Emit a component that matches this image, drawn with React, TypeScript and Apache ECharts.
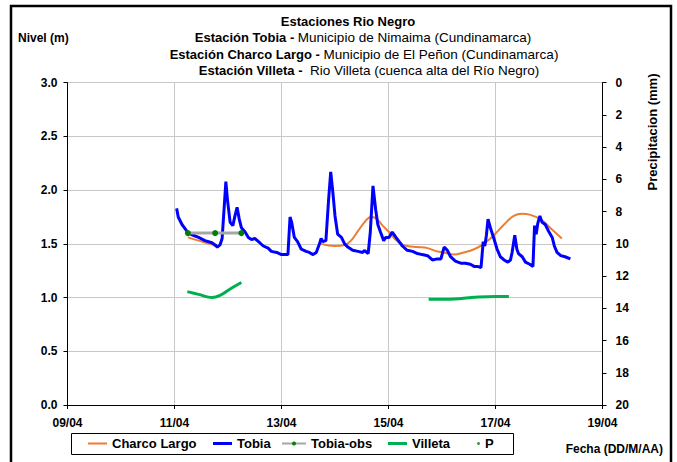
import React, { useEffect, useRef } from "react";
import * as echarts from "echarts";

// ---- data (x = day of April, y = level in m) ----
const tobiaDays = [
  11.04, 11.07, 11.14, 11.2, 11.26, 11.35, 11.45, 11.57, 11.7, 11.76, 11.8, 11.85, 11.89, 11.93, 11.96, 11.99,
  12.04, 12.09, 12.13, 12.17, 12.21, 12.25, 12.32, 12.38, 12.44, 12.5, 12.57, 12.66, 12.75, 12.81, 12.91, 13.0,
  13.12, 13.16, 13.19, 13.24, 13.3, 13.37, 13.46, 13.52, 13.59, 13.65, 13.71, 13.74, 13.77, 13.83, 13.88, 13.92,
  13.96, 14.0, 14.05, 14.12, 14.18, 14.24, 14.33, 14.43, 14.52, 14.55, 14.62, 14.66, 14.71, 14.76, 14.8, 14.85,
  14.91, 14.95, 15.01, 15.07, 15.14, 15.2, 15.26, 15.35, 15.45, 15.54, 15.63, 15.73, 15.82, 15.91, 15.98, 16.04,
  16.1, 16.16, 16.25, 16.35, 16.44, 16.53, 16.6, 16.66, 16.73, 16.77, 16.8, 16.83, 16.86, 16.91, 16.97, 17.03,
  17.09, 17.16, 17.23, 17.28, 17.31, 17.36, 17.4, 17.43, 17.5, 17.56, 17.64, 17.7, 17.73, 17.76, 17.79, 17.83,
  17.87, 17.93, 17.99, 18.06, 18.1, 18.15, 18.22, 18.3, 18.4,
];
const tobiaLevels = [
  1.83, 1.75, 1.68, 1.64, 1.6, 1.58, 1.56, 1.53, 1.51, 1.49, 1.47, 1.49, 1.55, 1.85, 2.08, 1.91,
  1.7, 1.67, 1.76, 1.84, 1.73, 1.65, 1.61, 1.56, 1.54, 1.55, 1.52, 1.48, 1.46, 1.43, 1.42, 1.4,
  1.4, 1.75, 1.7, 1.56, 1.52, 1.45, 1.43, 1.42, 1.4, 1.42, 1.5, 1.55, 1.52, 1.53, 1.91, 2.17,
  1.98, 1.76, 1.59, 1.56, 1.5, 1.47, 1.44, 1.43, 1.42, 1.44, 1.41, 1.61, 2.04, 1.82, 1.68, 1.61,
  1.53, 1.56, 1.56, 1.61, 1.56, 1.52, 1.48, 1.44, 1.43, 1.41, 1.4, 1.39, 1.35, 1.36, 1.36, 1.47,
  1.44, 1.38, 1.34, 1.32, 1.32, 1.31, 1.29, 1.29, 1.28, 1.52, 1.48, 1.58, 1.73, 1.64, 1.55, 1.45,
  1.38, 1.35, 1.33, 1.35, 1.42, 1.58, 1.45, 1.41, 1.38, 1.33, 1.31, 1.29, 1.67, 1.59, 1.69, 1.76,
  1.7, 1.68, 1.62, 1.56, 1.48, 1.42, 1.39, 1.38, 1.36,
];

const charcoDays = [
  11.25, 11.45, 11.66, 11.76, 12.8, 13.74, 13.99, 14.18, 14.3, 14.43, 14.55, 14.67, 14.76, 14.89, 15.01, 15.11,
  15.23, 15.35, 15.54, 15.73, 15.91, 16.04, 16.22, 16.41, 16.6, 16.78, 16.97, 17.16, 17.34, 17.5, 17.65, 17.84,
  18.02, 18.24,
];
const charcoLevels: (number | null)[] = [
  1.56, 1.53, 1.5, 1.48, null, 1.5, 1.48, 1.49, 1.53, 1.62, 1.7, 1.75, 1.74, 1.67, 1.61, 1.55,
  1.5, 1.48, 1.47, 1.46, 1.43, 1.42, 1.4, 1.42, 1.45, 1.5, 1.58, 1.68, 1.76, 1.78, 1.77, 1.73,
  1.65, 1.55,
];

const obsDays = [11.25, 11.76, 12.25];
const obsLevels = [1.6, 1.6, 1.6];

const villetaDays = [11.24, 11.45, 11.7, 11.85, 12.04, 12.25, 14.0, 15.75, 16.0, 16.32, 16.69, 17.0, 17.25];
const villetaLevels: (number | null)[] = [1.055, 1.03, 1.0, 1.02, 1.08, 1.14, null, 0.985, 0.985, 0.99, 1.005, 1.01, 1.01];

const precipDays: number[] = [];
const precipMm: number[] = [];

const xTicks = { min: 9, max: 19, interval: 2 };
const levelAxis = { min: 0, max: 3, interval: 0.5 };
const precipAxis = { min: 0, max: 20, interval: 2 };

const titleLines = [
  { bold: "Estaciones Rio Negro", normal: "" },
  { bold: "Estación Tobia - ", normal: "Municipio de Nimaima (Cundinamarca)" },
  { bold: "Estación Charco Largo - ", normal: "Municipio de El Peñon (Cundinamarca)" },
  { bold: "Estación Villeta - ", normal: " Rio Villeta (cuenca alta del Río Negro)" },
];

const zip = (xs: number[], ys: (number | null)[]) =>
  xs.map((x, i) => [x, ys[i] === null ? "-" : ys[i]]);

const FONT = "'Liberation Sans', Arial, sans-serif";

const ORANGE = "#ED7D31";
const BLUE = "#0000FF";
const GRAY = "#A6A6A6";
const GREEN = "#00B050";
const DOT = "#008000";

export default function App() {
  const ref = useRef<HTMLDivElement>(null);
  useEffect(() => {
    if (!ref.current) return;
    const chart = echarts.init(ref.current, undefined, { renderer: "svg" });
    const titleCenters = [348, 363, 364, 369];
    const titleYs = [21, 37.5, 54, 70];
    const legendSpec: any[] = [
      { name: "Charco Largo", left: 88, w: 19, h: 2, icon: "rect" },
      { name: "Tobia", left: 213, w: 19, h: 3, icon: "rect" },
      { name: "Tobia-obs", left: 281, w: 24, h: 5, icon: undefined },
      { name: "Villeta", left: 388, w: 19, h: 3, icon: "rect" },
      { name: "P", left: 477, w: 3, h: 3, icon: "circle" },
    ];
    const option: any = {
      animation: false,
      textStyle: { fontFamily: FONT },
      grid: { left: 67.5, right: 74.5, top: 82.7, bottom: 57 },
      legend: legendSpec.map((l) => ({
        data: [l.icon ? { name: l.name, icon: l.icon } : { name: l.name }],
        left: l.left,
        top: 437,
        padding: 0,
        itemWidth: l.w,
        itemHeight: l.h,
        textStyle: { fontFamily: FONT, fontSize: 13, fontWeight: "bold", color: "#000" },
      })),
      xAxis: {
        type: "value",
        ...xTicks,
        axisLine: { lineStyle: { color: "#000", width: 1 } },
        axisTick: { show: true, length: 4, lineStyle: { color: "#000" } },
        axisLabel: {
          margin: 12,
          fontFamily: FONT,
          fontSize: 12,
          fontWeight: "bold",
          color: "#000",
          formatter: (v: number) => String(v).padStart(2, "0") + "/04",
        },
        splitLine: { show: true, lineStyle: { color: "#c8c8c8", width: 1 } },
      },
      yAxis: [
        {
          type: "value",
          ...levelAxis,
          axisLine: { show: true, lineStyle: { color: "#000" } },
          axisTick: { show: true, length: 4, lineStyle: { color: "#000" } },
          axisLabel: {
            margin: 10,
            fontFamily: FONT,
            fontSize: 12,
            fontWeight: "bold",
            color: "#000",
            formatter: (v: number) => v.toFixed(1),
          },
          splitLine: { show: true, lineStyle: { color: "#c8c8c8", width: 1 } },
        },
        {
          type: "value",
          ...precipAxis,
          inverse: true,
          position: "right",
          axisLine: { show: true, lineStyle: { color: "#000" } },
          axisTick: { show: true, length: 4, lineStyle: { color: "#000" } },
          axisLabel: {
            margin: 13,
            fontFamily: FONT,
            fontSize: 12,
            fontWeight: "bold",
            color: "#000",
          },
          splitLine: { show: false },
        },
      ],
      series: [
        {
          name: "Charco Largo",
          type: "line",
          data: zip(charcoDays, charcoLevels),
          smooth: 0.4,
          symbol: "none",
          connectNulls: false,
          lineStyle: { color: ORANGE, width: 2 },
          itemStyle: { color: ORANGE },
          z: 2,
        },
        {
          name: "Tobia",
          type: "line",
          data: zip(tobiaDays, tobiaLevels),
          symbol: "none",
          lineStyle: { color: BLUE, width: 3 },
          itemStyle: { color: BLUE },
          z: 3,
        },
        {
          name: "Tobia-obs",
          type: "line",
          data: zip(obsDays, obsLevels),
          symbol: "circle",
          symbolSize: 6,
          lineStyle: { color: GRAY, width: 3 },
          itemStyle: { color: DOT },
          z: 4,
        },
        {
          name: "Villeta",
          type: "line",
          data: zip(villetaDays, villetaLevels),
          smooth: 0.4,
          symbol: "none",
          connectNulls: false,
          lineStyle: { color: GREEN, width: 3 },
          itemStyle: { color: GREEN },
          z: 4,
        },
        {
          name: "P",
          type: "scatter",
          yAxisIndex: 1,
          data: zip(precipDays, precipMm),
          symbol: "circle",
          symbolSize: 4,
          itemStyle: { color: DOT },
        },
      ],
      graphic: [
        {
          type: "rect",
          shape: { x: 11, y: 6, width: 660, height: 470 },
          style: { fill: "none", stroke: "#000", lineWidth: 2.5 },
          silent: true,
        },
        {
          type: "rect",
          shape: { x: 71.5, y: 433.5, width: 442, height: 21 },
          style: { fill: "none", stroke: "#000", lineWidth: 1 },
          silent: true,
        },
        ...titleLines.map((t, i) => ({
          type: "text",
          x: titleCenters[i],
          y: titleYs[i],
          style: {
            text: t.normal ? `{b|${t.bold}}{n|${t.normal}}` : `{b|${t.bold}}`,
            align: "center",
            verticalAlign: "middle",
            rich: {
              b: { fontFamily: FONT, fontSize: 13, fontWeight: "bold", fill: "#000" },
              n: { fontFamily: FONT, fontSize: 13.5, fontWeight: "normal", fill: "#000" },
            },
          },
        })),
        {
          type: "text",
          x: 18,
          y: 38,
          style: {
            text: "Nivel (m)",
            align: "left",
            verticalAlign: "middle",
            fontFamily: FONT,
            fontSize: 12,
            fontWeight: "bold",
            fill: "#000",
          },
        },
        {
          type: "text",
          x: 652,
          y: 132,
          rotation: Math.PI / 2,
          style: {
            text: "Precipitacion (mm)",
            align: "center",
            verticalAlign: "middle",
            fontFamily: FONT,
            fontSize: 13,
            fontWeight: "bold",
            fill: "#000",
          },
        },
        {
          type: "text",
          x: 663,
          y: 449,
          style: {
            text: "Fecha (DD/M/AA)",
            align: "right",
            verticalAlign: "middle",
            fontFamily: FONT,
            fontSize: 12,
            fontWeight: "bold",
            fill: "#000",
          },
        },
      ],
    };
    chart.setOption(option);
    return () => chart.dispose();
  }, []);
  return (
    <div
      ref={ref}
      style={{ position: "fixed", left: 0, top: 0, width: 677, height: 462, background: "#fff" }}
    />
  );
}
